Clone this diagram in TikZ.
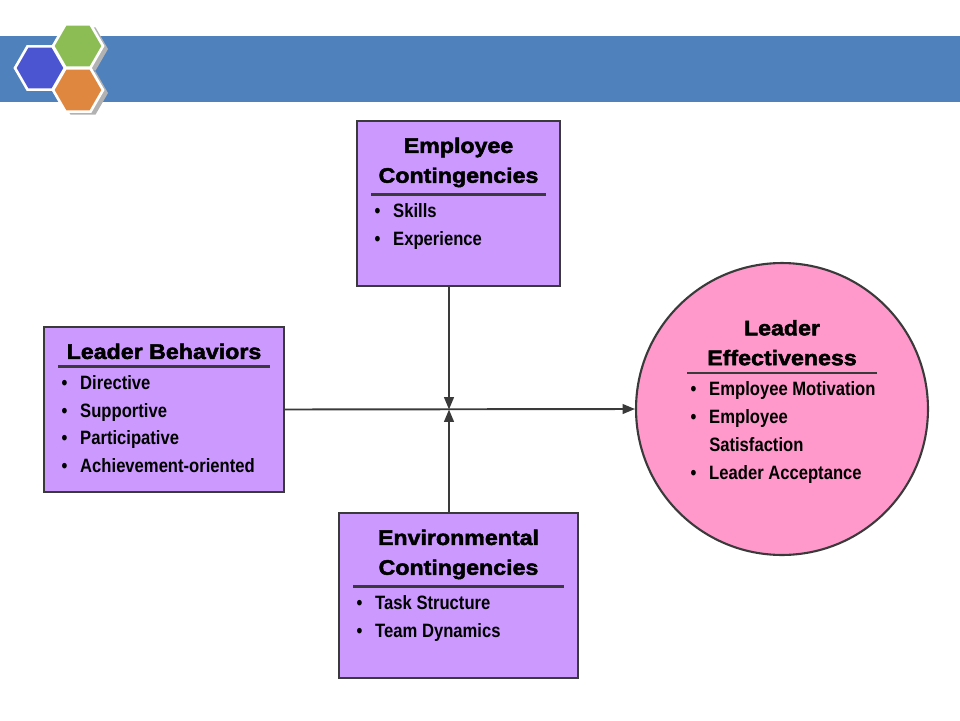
\documentclass[tikz,border=0pt]{standalone}
\usepackage{fontspec}
\setmainfont{Liberation Sans}
\newfontfamily\headfont[FakeBold=2.2,FakeStretch=1.1]{Liberation Sans Bold}
\newfontfamily\itemfont[FakeStretch=0.86]{Liberation Sans Bold}
\usetikzlibrary{arrows.meta,positioning}
\definecolor{barblue}{HTML}{4F81BD}
\definecolor{hexblue}{HTML}{4B55D2}
\definecolor{hexgreen}{HTML}{8CBD55}
\definecolor{hexorange}{HTML}{E0873F}
\definecolor{boxlilac}{HTML}{CC99FF}
\definecolor{circpink}{HTML}{FF99CC}
\definecolor{linegray}{HTML}{3A3A3A}

\newcommand{\ttl}[1]{{\vspace*{1.5pt}\headfont\fontsize{12}{17}\selectfont #1\par}}
\newcommand{\sep}{\vspace{3.5pt}{\color{linegray}\hrule height 1.3pt}\vspace{4.5pt}}
\newcommand{\bul}{\par\hangindent=1.15em\hangafter=1\noindent\makebox[1.15em][l]{\hspace{2pt}\textbullet}}
\newcommand{\lst}[1]{{\itemfont\fontsize{11}{15.8}\selectfont\raggedright #1\par}}

\begin{document}
\begin{tikzpicture}[x=0.02cm, y=-0.02cm,
  pbox/.style={draw=linegray, line width=1.2pt, fill=boxlilac, inner sep=0.28cm},
  effc/.style={circle, draw=linegray, line width=1.2pt, fill=circpink, minimum size=5.84cm, inner sep=0pt},
  conn/.style={-{Triangle[length=7pt,width=5.5pt]}, line width=1.1pt, linegray},
  hexa/.style={fill=#1, draw=white, line width=1.5pt}]
\useasboundingbox (0,0) rectangle (960,720);
% header
\fill[barblue] (0,36) rectangle (960,102);
\foreach \cx/\cy in {78/46, 78/90}
  \fill[black!30] (\cx+5,\cy+3) +(0:25) -- +(60:25) -- +(120:25) -- +(180:25) -- +(240:25) -- +(300:25) -- cycle;
\foreach \cx/\cy/\col in {40/68/hexblue, 78/46/hexgreen, 78/90/hexorange}
  \path[hexa=\col] (\cx,\cy) +(0:25) -- +(60:25) -- +(120:25) -- +(180:25) -- +(240:25) -- +(300:25) -- cycle;
% boxes
\node[pbox] (emp) at (458.5,203.5) {\begin{minipage}[t][2.74cm][t]{3.5cm}\centering
  \ttl{Employee\\Contingencies}\sep\lst{\bul Skills\bul Experience}\end{minipage}};
\node[pbox] (lb) at (164,409.5) {\begin{minipage}[t][2.74cm][t]{4.24cm}\centering
  \ttl{Leader Behaviors}\sep\lst{\bul Directive\bul Supportive\bul Participative\bul Achievement-oriented}\end{minipage}};
\node[pbox] (env) at (458.5,595.5) {\begin{minipage}[t][2.74cm][t]{4.22cm}\centering
  \ttl{Environmental\\Contingencies}\sep\lst{\bul Task Structure\bul Team Dynamics}\end{minipage}};
\node[effc] (eff) at (782,409) {\begin{minipage}{3.8cm}\centering
  \ttl{Leader\\Effectiveness}\sep\lst{\bul Employee Motivation\bul Employee\newline Satisfaction\bul Leader Acceptance}\vspace{10pt}\end{minipage}};
% connectors
\coordinate (jn) at (449,409.5);
\draw[conn] (emp.south -| jn) -- (jn);
\draw[conn] (env.north -| jn) -- (jn);
\draw[conn] (lb.east) -- (eff.west);
\end{tikzpicture}
\end{document}
